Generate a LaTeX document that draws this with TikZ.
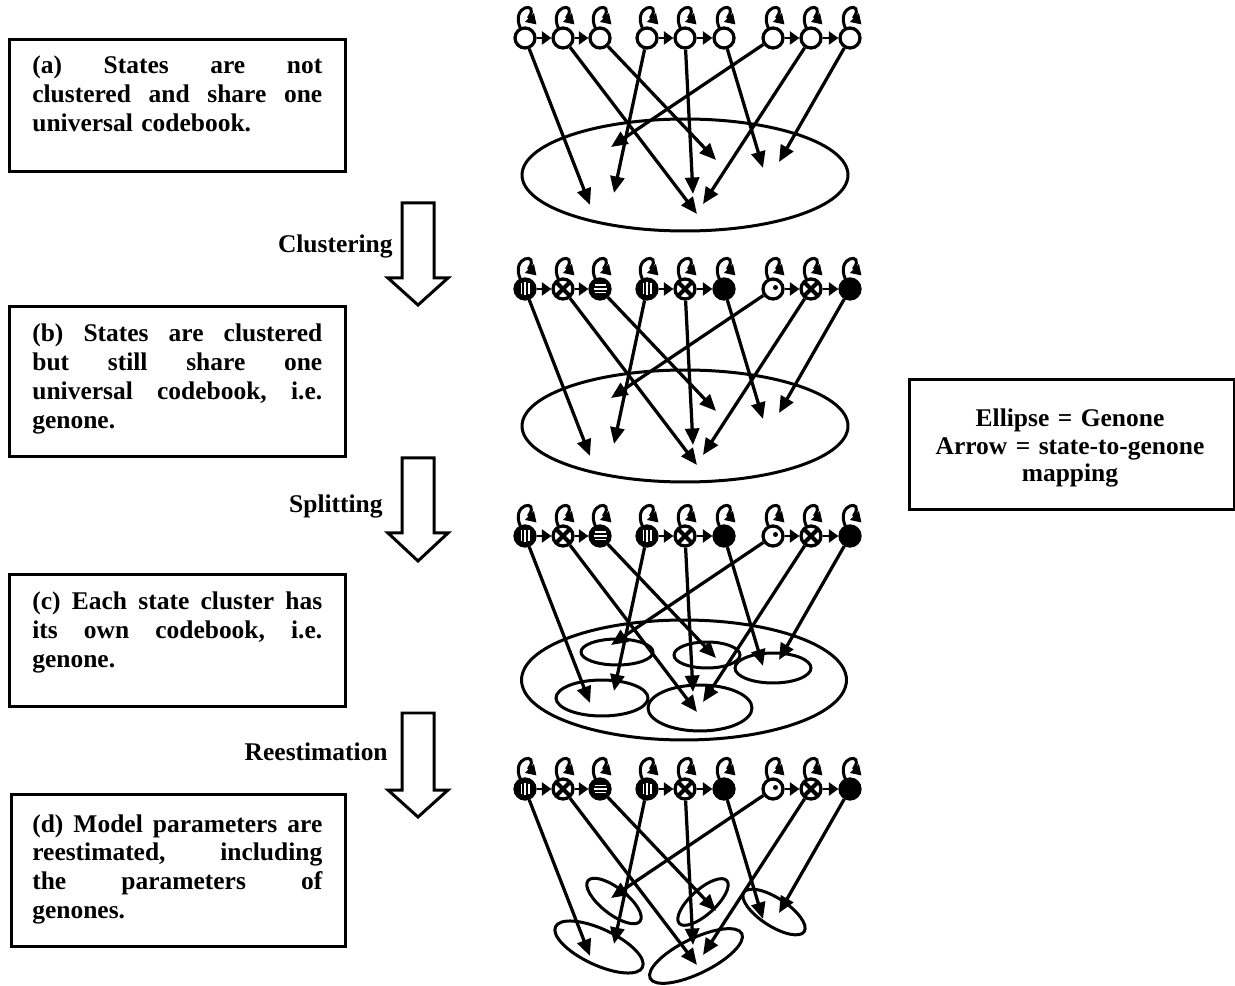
\documentclass[tikz,border=0pt]{standalone}
\usepackage{fontspec}
\setmainfont{Liberation Serif}
\usetikzlibrary{arrows.meta,shapes.geometric}

% one fully justified caption line: words are separated by \hfill
\newcommand\jline[1]{\leavevmode\hbox to 5.8cm{#1}}

\tikzset{
  state/.style={circle, draw, line width=0.065cm, minimum size=0.4cm, inner sep=0pt, fill=white},
  map/.style={line width=0.065cm, -{Triangle[length=0.33cm,width=0.28cm]}},
  trans/.style={line width=0.055cm, -{Triangle[length=0.19cm,width=0.26cm]}},
  selfloop/.style={line width=0.06cm, -{Triangle[length=0.2cm,width=0.24cm]}},
  genone/.style={ellipse, draw, line width=0.06cm, inner sep=0pt},
  frame/.style={draw, line width=0.06cm, anchor=north west, inner sep=0pt},
  caption/.style={anchor=base west, inner sep=0pt, text width=5.8cm, align=left,
                  font=\bfseries\fontsize{14.5}{16.5}\selectfont},
  legend/.style={anchor=base, inner sep=0pt, text width=6.2cm, align=center,
                 font=\bfseries\fontsize{14.5}{15.4}\selectfont},
  steplabel/.style={anchor=base east, inner sep=0pt, font=\bfseries\fontsize{14.5}{16.5}\selectfont},
  hollow/.style={draw, line width=0.06cm, fill=white, line join=miter},
}

% fillings of the clustered states
\newcommand\decov[1]{%
  \fill (#1.center) circle[radius=0.205cm];
  \draw[white, line width=0.03cm]
    ([shift={(-0.075cm,-0.11cm)}]#1.center) -- ++(0,0.22cm)
    ([shift={(0cm,-0.13cm)}]#1.center) -- ++(0,0.26cm)
    ([shift={(0.075cm,-0.11cm)}]#1.center) -- ++(0,0.22cm);}
\newcommand\decoh[1]{%
  \fill (#1.center) circle[radius=0.205cm];
  \draw[white, line width=0.03cm]
    ([shift={(-0.11cm,-0.075cm)}]#1.center) -- ++(0.22cm,0)
    ([shift={(-0.13cm,0cm)}]#1.center) -- ++(0.26cm,0)
    ([shift={(-0.11cm,0.075cm)}]#1.center) -- ++(0.22cm,0);}
\newcommand\decox[1]{%
  \draw[line width=0.08cm]
    ([shift={(-0.13cm,-0.13cm)}]#1.center) -- ([shift={(0.13cm,0.13cm)}]#1.center)
    ([shift={(-0.13cm,0.13cm)}]#1.center) -- ([shift={(0.13cm,-0.13cm)}]#1.center);}
\newcommand\decoo[1]{%
  \fill ([shift={(0.05cm,0.03cm)}]#1.center) circle[radius=0.05cm];}
\newcommand\decos[1]{%
  \fill (#1.center) circle[radius=0.205cm];}

% the self-transition drawn above a state
\newcommand\loopon[1]{%
  \draw[selfloop] ([shift={(-0.09cm,0.19cm)}]#1.center)
    .. controls ([shift={(-0.3cm,0.66cm)}]#1.center) and ([shift={(0.3cm,0.74cm)}]#1.center)
    .. ([shift={(0.08cm,0.42cm)}]#1.center) -- ([shift={(0.23cm,0.27cm)}]#1.center);}

\begin{document}
\begin{tikzpicture}[x=0.02cm, y=-0.02cm]
\useasboundingbox (0,0) rectangle (1235,986);
\fill[white] (0,0) rectangle (1235,986);

% ---- captions on the left ----
\node[frame, minimum width=6.72cm, minimum height=2.64cm] (boxa) at (8,38) {};
\node[caption] (capa) at (32,74) {\jline{(a)\hfill States\hfill are\hfill not}\\
  \jline{clustered\hfill and\hfill share\hfill one}\\universal codebook.};

\node[frame, minimum width=6.72cm, minimum height=3.0cm] (boxb) at (8,305) {};
\node[caption] (capb) at (32,342) {\jline{(b)\hfill States\hfill are\hfill clustered}\\
  \jline{but\hfill still\hfill share\hfill one}\\
  \jline{universal\hfill codebook,\hfill i.e.}\\genone.};

\node[frame, minimum width=6.72cm, minimum height=2.64cm] (boxc) at (8,573) {};
\node[caption] (capc) at (32,610) {\jline{(c)\hfill Each\hfill state\hfill cluster\hfill has}\\
  \jline{its\hfill own\hfill codebook,\hfill i.e.}\\genone.};

\node[frame, minimum width=6.68cm, minimum height=3.04cm] (boxd) at (10,793) {};
\node[caption] (capd) at (32,832) {\jline{(d)\hfill Model\hfill parameters\hfill are}\\
  \jline{reestimated,\hfill including}\\
  \jline{the\hfill parameters\hfill of}\\genones.};

% ---- legend ----
\node[frame, minimum width=6.5cm, minimum height=2.6cm] (boxl) at (908,378) {};
\node[legend] (legtext) at (1070,427) {Ellipse = Genone\\Arrow = state-to-genone\\mapping};

% ---- process steps ----
\draw[hollow] (402,203) -- (434,203) -- (434,278) -- (448,278) -- (418,305) -- (388,278) -- (402,278) -- cycle;
\node[steplabel] (lclust) at (393,253) {Clustering};
\draw[hollow] (402,458) -- (434,458) -- (434,533) -- (448,533) -- (418,561) -- (388,533) -- (402,533) -- cycle;
\node[steplabel] (lsplit) at (383,513) {Splitting};
\draw[hollow] (402,713) -- (434,713) -- (434,790) -- (448,790) -- (418,817) -- (388,790) -- (402,790) -- cycle;
\node[steplabel] (lreest) at (388,760) {Reestimation};

% ---- genones ----
\node[genone, minimum width=6.52cm, minimum height=2.24cm] (ga) at (685,175) {};
\node[genone, minimum width=6.52cm, minimum height=2.24cm] (gb) at (685,426) {};
\node[genone, minimum width=6.5cm, minimum height=2.4cm] (gc) at (684,680) {};
\node[genone, minimum width=1.44cm, minimum height=0.52cm] (gc1) at (617,652) {};
\node[genone, minimum width=1.32cm, minimum height=0.52cm] (gc2) at (707,655) {};
\node[genone, minimum width=1.52cm, minimum height=0.6cm] (gc3) at (773,668) {};
\node[genone, minimum width=1.84cm, minimum height=0.72cm] (gc4) at (602,698) {};
\node[genone, minimum width=2.08cm, minimum height=0.92cm] (gc5) at (700,708) {};
\node[genone, rotate=-38, minimum width=1.32cm, minimum height=0.52cm] (gd1) at (614,901) {};
\node[genone, rotate=42, minimum width=1.28cm, minimum height=0.5cm] (gd2) at (703,902) {};
\node[genone, rotate=-33, minimum width=1.44cm, minimum height=0.56cm] (gd3) at (774,912) {};
\node[genone, rotate=-25, minimum width=1.92cm, minimum height=0.72cm] (gd4) at (599,947) {};
\node[genone, rotate=26, minimum width=2.04cm, minimum height=0.7cm] (gd5) at (696,956) {};

% ---- unclustered states ----
\foreach \i/\xx in {1/525, 2/563, 3/600, 4/647, 5/685, 6/724, 7/773, 8/811, 9/850} {
  \node[state] (a\i) at (\xx,38) {};
  \loopon{a\i}
}

% ---- clustered states ----
\foreach \p/\yy in {b/289, c/536, d/789} {
  \foreach \i/\xx/\pat in {1/525/v, 2/563/x, 3/600/h, 4/647/v, 5/685/x, 6/724/s, 7/773/o, 8/811/x, 9/850/s} {
    \node[state] (\p\i) at (\xx,\yy) {};
    \csname deco\pat\endcsname{\p\i}
    \loopon{\p\i}
  }
}

% ---- transitions and state-to-genone mappings ----
\foreach \p/\yy in {a/38, b/289, c/536, d/789} {
  \foreach \f/\t in {1/2, 2/3, 4/5, 5/6, 7/8, 8/9}
    \draw[trans] (\p\f) -- (\p\t);
  \foreach \i/\tx/\dy in {1/590/167, 2/697/176, 3/716/122, 4/614/155, 5/693/156,
                          6/763/130, 7/611/109, 8/703/166, 9/779/124} {
    \coordinate (t\p\i) at ({\tx},{\yy+\dy});
    \draw[map] (\p\i) -- (t\p\i);
  }
}
\end{tikzpicture}
\end{document}
